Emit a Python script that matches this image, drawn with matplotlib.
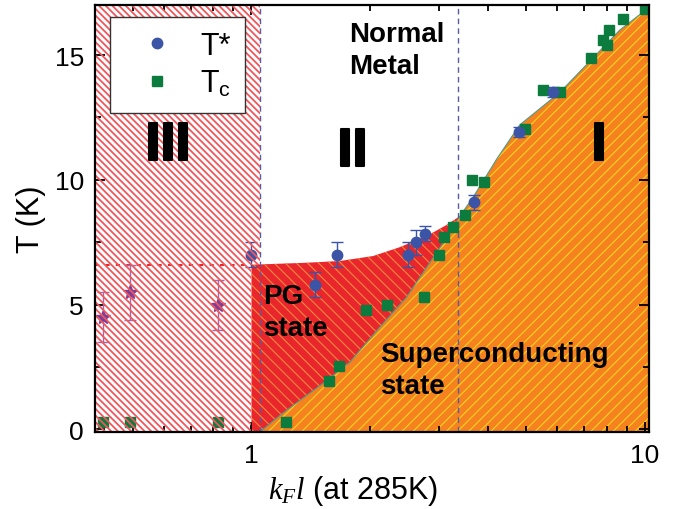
import numpy as np
import matplotlib
matplotlib.use("Agg")
import matplotlib.pyplot as plt
import matplotlib.ticker as mticker
import matplotlib.patheffects as pe
from matplotlib.lines import Line2D

plt.rcParams['font.family'] = ['Liberation Sans', 'DejaVu Sans']
plt.rcParams['mathtext.fontset'] = 'custom'
plt.rcParams['mathtext.rm'] = 'Liberation Sans'
plt.rcParams['mathtext.it'] = 'Liberation Serif:italic'
plt.rcParams['hatch.linewidth'] = 0.8

# pseudogap temperature T* (with error bars)
tstar_kfl = [1.0, 1.45, 1.65, 2.50, 2.62, 2.76, 3.68, 4.79, 5.84]
tstar_T = [7.0, 5.8, 7.0, 7.0, 7.5, 7.85, 9.1, 11.9, 13.5]
tstar_err = [0.5, 0.5, 0.5, 0.5, 0.5, 0.3, 0.3, 0.2, 0.2]

# region III gap estimates (stars)
ins_kfl = [0.42, 0.491, 0.822]
ins_T = [4.5, 5.5, 5.0]
ins_err = [1.0, 1.1, 1.0]

# superconducting Tc
tc_kfl = [0.42, 0.491, 0.822, 1.224, 1.574, 1.668, 1.954, 2.21, 2.74, 3.0,
          3.085, 3.25, 3.49, 3.63, 3.90, 4.95, 5.51, 6.08, 7.29, 7.82,
          8.01, 8.10, 8.79, 10.0]
tc_T = [0.3, 0.3, 0.3, 0.3, 1.95, 2.55, 4.8, 5.0, 5.3, 7.0,
        7.7, 8.1, 8.6, 10.0, 9.9, 12.05, 13.6, 13.5, 14.9, 15.6,
        15.4, 16.0, 16.45, 16.85]

# boundary of the superconducting dome (guide to the eye)
sc_kfl = [1.05, 1.20, 1.52, 1.78, 2.12, 2.48, 2.79, 3.14, 3.39, 3.66,
          4.21, 4.81, 6.08, 7.25, 8.64, 10.24]
sc_T = [-0.1, 0.65, 1.85, 2.7, 4.1, 5.3, 6.5, 7.7, 8.55, 9.3,
        10.85, 12.2, 13.5, 14.75, 16.0, 16.9]

# upper edge of the pseudogap region
pg_kfl = [1.0, 1.38, 1.68, 2.04, 2.38, 2.79, 3.14, 3.39]
pg_T = [6.6, 6.68, 6.75, 6.95, 7.3, 7.75, 8.2, 8.55]

kfl_min, kfl_max = 0.4, 10.24
T_min, T_max = -0.1, 17.0
kfl_mit = 1.05    # left dashed line
kfl_cross = 3.35  # right dashed line

blue = '#3b54a5'
green = '#0b7b3e'
purple = '#7b3f99'
red = '#e8262b'
orange = '#f5821f'

fig = plt.figure(figsize=(6.88, 5.10), dpi=100)
ax = fig.add_axes([0.138, 0.151, 0.805, 0.837])
ax.set_xscale('log')
ax.set_xlim(kfl_min, kfl_max)
ax.set_ylim(T_min, T_max)


def hatch_lw(artist, lw):
    if hasattr(artist, 'set_hatch_linewidth'):
        artist.set_hatch_linewidth(lw)


# PG region, then the superconducting dome on top of it
pg = ax.fill_between(pg_kfl, pg_T, T_min, facecolor=red, edgecolor='#f58a3c',
                     hatch='\\\\\\', linewidth=0, zorder=1)
sc = ax.fill_between(sc_kfl, sc_T, T_min, facecolor=orange, edgecolor='#f7d51e',
                     hatch='///', linewidth=0, zorder=1.2)
ax.plot(sc_kfl, sc_T, color='#4f9a86', lw=0.8, zorder=1.5)

# region III: hatched band left of the metal-insulator line
reg3 = ax.fill([kfl_min, pg_kfl[0], pg_kfl[0], kfl_mit, kfl_mit, kfl_min],
               [T_min, T_min, pg_T[0], pg_T[0], T_max, T_max],
               facecolor='none', edgecolor='#f0565c', hatch='\\' * 5,
               linewidth=0, zorder=3.5)[0]
hatch_lw(reg3, 1.3)
ax.hlines(pg_T[0], kfl_min, pg_kfl[0], colors=red, linestyles=(0, (2, 3)),
          lw=1.5, zorder=2)

for xv in (kfl_mit, kfl_cross):
    ax.axvline(xv, color='#5a5aa0', lw=1.0, ls=(0, (4, 3)), zorder=2)

ax.errorbar(tstar_kfl, tstar_T, yerr=tstar_err, fmt='o', color=blue, ms=7.5,
            elinewidth=1.0, capsize=4, capthick=1.0, zorder=3)
ax.errorbar(ins_kfl, ins_T, yerr=ins_err, fmt='*', color=purple, ecolor='#9a6ab0',
            ms=10, elinewidth=1.0, capsize=4, capthick=1.0, zorder=3)
ax.plot(tc_kfl, tc_T, 's', color=green, ms=7, ls='none', zorder=3)

# phase labels
big = dict(fontsize=39, fontweight='bold', ha='center', va='center', zorder=4,
           path_effects=[pe.withStroke(linewidth=1.5, foreground='black')])
ax.text(0.614, 11.36, 'III', **big)
ax.text(1.81, 11.12, 'II', **big)
ax.text(7.64, 11.36, 'I', **big)
lab = dict(fontsize=20, fontweight='bold', ha='left', va='top', zorder=4,
           linespacing=1.3)
ax.text(1.77, 16.35, 'Normal\nMetal', **lab)
ax.text(1.07, 5.85, 'PG\nstate', **lab)
ax.text(2.12, 3.55, 'Superconducting\nstate', **lab)

handles = [Line2D([], [], marker='o', color=blue, ls='none', ms=7.5),
           Line2D([], [], marker='s', color=green, ls='none', ms=7)]
leg = ax.legend(handles, ['T*', 'T$_{\\rm c}$'], loc='upper left',
                bbox_to_anchor=(0.027, 0.972), fontsize=22,
                frameon=True, fancybox=False, framealpha=1, edgecolor='#333333',
                handlelength=2.2, handletextpad=0.3, borderpad=0.45,
                labelspacing=0.25, borderaxespad=0)
leg.get_frame().set_linewidth(1.0)
leg.set_zorder(5)

ax.xaxis.set_major_locator(mticker.FixedLocator([1, 10]))
ax.xaxis.set_major_formatter(mticker.FuncFormatter(lambda v, p: f'{v:g}'))
ax.xaxis.set_minor_locator(mticker.LogLocator(base=10, subs=np.arange(2, 10)))
ax.xaxis.set_minor_formatter(mticker.NullFormatter())
ax.yaxis.set_major_locator(mticker.MultipleLocator(5))
ax.yaxis.set_minor_locator(mticker.MultipleLocator(2.5))
ax.tick_params(which='both', direction='in', top=True, right=True,
               labelsize=19, width=1.3)
ax.tick_params(which='major', length=7, pad=8)
ax.tick_params(which='minor', length=4)
for s in ax.spines.values():
    s.set_linewidth(1.6)
    s.set_zorder(6)

ax.set_xlabel('$k_F l$ (at 285K)', fontsize=22)
ax.xaxis.set_label_coords(0.465, -0.097)
ax.set_ylabel('T (K)', fontsize=22, labelpad=6)

fig.savefig('out.png', dpi=100)
